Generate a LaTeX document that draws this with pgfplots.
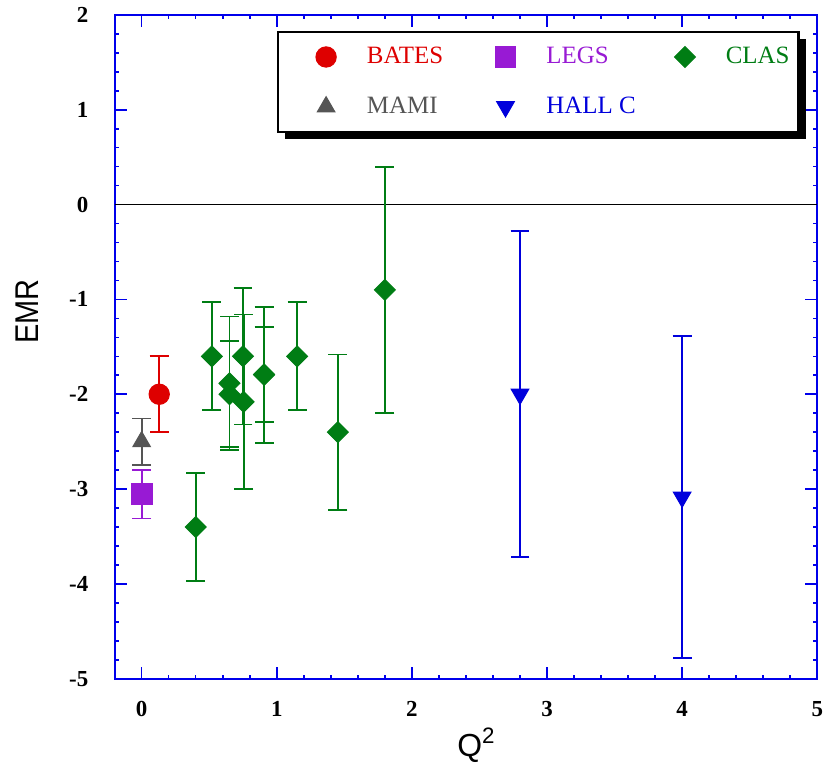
\documentclass[border=0pt]{standalone}
\usepackage{fontspec}
\setmainfont{Liberation Serif}
\newfontfamily\arialfont{Liberation Sans}
\usepackage{pgfplots}
\pgfplotsset{compat=1.18}
\usetikzlibrary{shadows}
\definecolor{batesred}{RGB}{222,0,0}
\definecolor{legspurple}{RGB}{152,26,212}
\definecolor{clasgreen}{RGB}{0,125,20}
\definecolor{mamigray}{RGB}{85,85,85}
\definecolor{hallblue}{RGB}{0,0,220}
\definecolor{axisblue}{RGB}{0,0,235}
\pgfplotsset{
  mylegimg/.style={legend image code/.code={\pgfpathrectangle{\pgfpoint{-24pt}{-12.5pt}}{\pgfpoint{30pt}{25pt}}\pgfusepath{use as bounding box}\draw[##1] plot coordinates {(0pt,0pt)};}},
  myerr/.style={error bars/.cd, y dir=both, y explicit, error bar style={line width=0.9pt}, error mark options={rotate=90, mark size=4.75pt, line width=0.9pt}},
}
\begin{document}
\begin{tikzpicture}
\begin{axis}[
  scale only axis,
  width=352.5pt, height=333pt,
  xmin=-0.2, xmax=5, ymin=-5, ymax=2,
  xtick={0,1,2,3,4,5}, xticklabels={0,1,2,3,4,5},
  ytick={-5,-4,-3,-2,-1,0,1,2}, yticklabels={-5,-4,-3,-2,-1,0,1,2},
  minor x tick num=4, minor y tick num=4,
  tick align=inside, xtick pos=both, ytick pos=both,
  xticklabel pos=lower, yticklabel pos=left,
  major tick length=6pt, minor tick length=2pt,
  axis line style={draw=axisblue, line width=1pt},
  tick style={draw=axisblue, line width=0.8pt},
  ticklabel style={font=\fontsize{11.5}{12}\selectfont\bfseries, inner sep=0pt},
  yticklabel style={anchor=east, xshift=-13pt},
  xticklabel style={anchor=north, yshift=-11pt},
  xlabel={\arialfont Q\textsuperscript{2}},
  ylabel={\scalebox{0.88}[1]{\arialfont EMR}},
  xlabel style={font=\fontsize{16}{18}\selectfont, at={(rel axis cs:0.515,0)}, anchor=north, inner sep=0pt, yshift=-24.5pt},
  ylabel style={font=\fontsize{16.5}{18}\selectfont, at={([xshift=-44pt]rel axis cs:0,0.553)}, anchor=center, inner sep=0pt},
  legend columns=3,
  legend cell align=left,
  legend style={at={(rel axis cs:0.2312,0.976)}, anchor=north west,
    draw=black, line width=1.2pt, fill=white,
    inner xsep=0pt, inner ysep=0pt, nodes={inner sep=0pt},
    font=\fontsize{12.5}{14}\selectfont,
    /tikz/every odd column/.append style={column sep=14.5pt},
    /tikz/every even column/.append style={column sep=0pt},
    drop shadow={shadow xshift=3.5pt, shadow yshift=-3.5pt, fill=black, opacity=1}},
]
\addplot[black, line width=0.75pt, forget plot] coordinates {(-0.2,0) (5,0)};
% BATES
\addplot[only marks, mylegimg, batesred, mark=*, mark size=5.1pt, line width=0.5pt, myerr]
  coordinates {(0.13,-2.0) +- (0,0.4)};
\addlegendentry{\makebox[45.5pt][l]{\textcolor{batesred}{BATES}}}
% LEGS
\addplot[only marks, mylegimg, legspurple, mark=square*, mark size=5.2pt, line width=0.5pt, myerr]
  coordinates {(0,-3.055) +- (0,0.255)};
\addlegendentry{\makebox[45.5pt][l]{\textcolor{legspurple}{LEGS}}}
% CLAS
\addplot[only marks, mylegimg, clasgreen, mark=square*, mark size=3.7pt, mark options={rotate=45}, line width=0.5pt, myerr]
  coordinates {
    (0.40,-3.4) +- (0,0.57)
    (0.52,-1.6) +- (0,0.57)
    (0.65,-1.885) +- (0,0.705)
    (0.65,-2.0) +- (0,0.56)
    (0.75,-1.6) +- (0,0.72)
    (0.755,-2.08) +- (0,0.92)
    (0.906,-1.795) +- (0,0.715)
    (0.906,-1.79) +- (0,0.5)
    (1.151,-1.6) +- (0,0.57)
    (1.452,-2.4) +- (0,0.82)
    (1.80,-0.9) +- (0,1.3)
  };
\addlegendentry{\makebox[36.5pt][l]{\textcolor{clasgreen}{CLAS}}}
% MAMI
\addplot[only marks, mylegimg, mamigray, mark=triangle*, mark size=5.1pt, line width=0.5pt, myerr]
  coordinates {(0,-2.5) +- (0,0.245)};
\addlegendentry{\makebox[45.5pt][l]{\textcolor{mamigray}{MAMI}}}
% HALL C
\addplot[only marks, mylegimg, hallblue, mark=triangle*, mark size=5.1pt, mark options={rotate=180}, line width=0.5pt, myerr]
  coordinates {(2.8,-2.0) +- (0,1.72) (4.0,-3.085) +- (0,1.7)};
\addlegendentry{\makebox[45.5pt][l]{\textcolor{hallblue}{HALL C}}}
\end{axis}
\path ([xshift=-57.5pt,yshift=-40pt]current axis.south west) rectangle ([xshift=1.5pt,yshift=7.5pt]current axis.north east);
\end{tikzpicture}
\end{document}
